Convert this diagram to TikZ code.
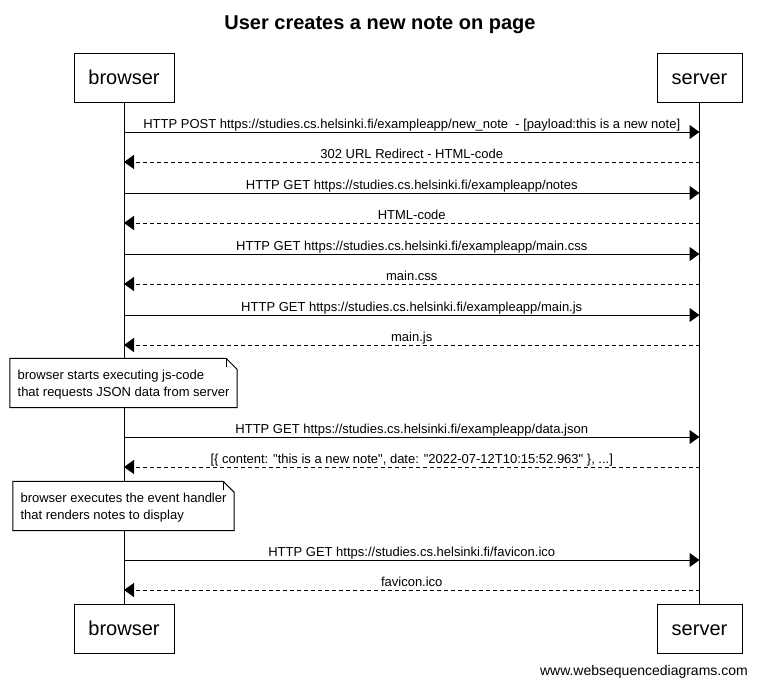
\documentclass[tikz,border=0pt]{standalone}
\usepackage{fontspec}
\setmainfont{Liberation Sans}
\usetikzlibrary{arrows.meta}
% straight double quote, bypassing the TeX ligature mapping
\newcommand\sq{\XeTeXglyph\XeTeXcharglyph"22\relax}
\begin{document}
\begin{tikzpicture}[x=1pt,y=-1pt,
  actor/.style={draw,line width=1pt,fill=white,minimum height=49pt,inner sep=0pt,
    text height=14.5pt,text depth=0pt,font=\fontsize{20}{24}\selectfont},
  lifeline/.style={line width=1pt},
  msg/.style={line width=1pt,-{Triangle[length=10pt,width=14pt]}},
  reply/.style={msg,dash pattern=on 4pt off 3pt},
  lbl/.style={midway,anchor=base,yshift=3.5pt,inner sep=0pt,font=\fontsize{13}{15}\selectfont},
  notebox/.style={fill=white,align=left,inner xsep=7.5pt,inner ysep=0pt,minimum height=49pt,
    text depth=0pt,font=\fontsize{13}{17}\selectfont},
  fold/.style={line width=1pt},
]
\useasboundingbox (0,0) rectangle (757,688);

% title
\node[anchor=base,font=\fontsize{20}{24}\selectfont\bfseries] (title) at (380,29) {User creates a new note on page};

% participants
\node[actor,minimum width=100pt] (btop) at (124,77.5) {browser};
\node[actor,minimum width=85pt] (stop) at (699.5,77.5) {server};
\node[actor,minimum width=100pt] (bbot) at (124,628.5) {browser};
\node[actor,minimum width=85pt] (sbot) at (699.5,628.5) {server};

% lifelines
\draw[lifeline] (btop.south) -- (bbot.north);
\draw[lifeline] (stop.south) -- (sbot.north);

% message anchor points on both lifelines
\foreach \i/\y in {1/132,2/162,3/193,4/223,5/254,6/284,7/315,8/345,9/437,10/467,11/560,12/590}{
  \coordinate (b\i) at (124,\y);
  \coordinate (s\i) at (699.5,\y);
}

% messages
\draw[msg] (b1) -- node[lbl]{HTTP POST https://studies.cs.helsinki.fi/exampleapp/new\_note \ - [payload:this is a new note]} (s1);
\draw[reply] (s2) -- node[lbl]{302 URL Redirect - HTML-code} (b2);
\draw[msg] (b3) -- node[lbl]{HTTP GET https://studies.cs.helsinki.fi/exampleapp/notes} (s3);
\draw[reply] (s4) -- node[lbl]{HTML-code} (b4);
\draw[msg] (b5) -- node[lbl]{HTTP GET https://studies.cs.helsinki.fi/exampleapp/main.css} (s5);
\draw[reply] (s6) -- node[lbl]{main.css} (b6);
\draw[msg] (b7) -- node[lbl]{HTTP GET https://studies.cs.helsinki.fi/exampleapp/main.js} (s7);
\draw[reply] (s8) -- node[lbl]{main.js} (b8);
\draw[msg] (b9) -- node[lbl]{HTTP GET https://studies.cs.helsinki.fi/exampleapp/data.json} (s9);
\draw[reply] (s10) -- node[lbl]{[\{ content: \sq this is a new note\sq, date: \sq 2022-07-12T10:15:52.963\sq\ \}, ...]} (b10);
\draw[msg] (b11) -- node[lbl]{HTTP GET https://studies.cs.helsinki.fi/favicon.ico} (s11);
\draw[reply] (s12) -- node[lbl]{favicon.ico} (b12);

% notes with folded corner
\node[notebox] (note1) at (123.5,383) {browser starts executing js-code\\that requests JSON data from server};
\node[notebox] (note2) at (123.5,506) {browser executes the event handler\\that renders notes to display};
\foreach \n in {note1,note2}{
  \draw[fold] (\n.north west) -- ([xshift=-11pt]\n.north east) -- ([yshift=-11pt]\n.north east)
    -- (\n.south east) -- (\n.south west) -- cycle;
  \draw[fold] ([xshift=-11pt]\n.north east) -- ([xshift=-11pt,yshift=-9pt]\n.north east);
}

% footer
\node[anchor=east,inner sep=0pt,font=\fontsize{14}{16}\selectfont] (footer) at (748,672) {www.websequencediagrams.com};
\end{tikzpicture}
\end{document}
